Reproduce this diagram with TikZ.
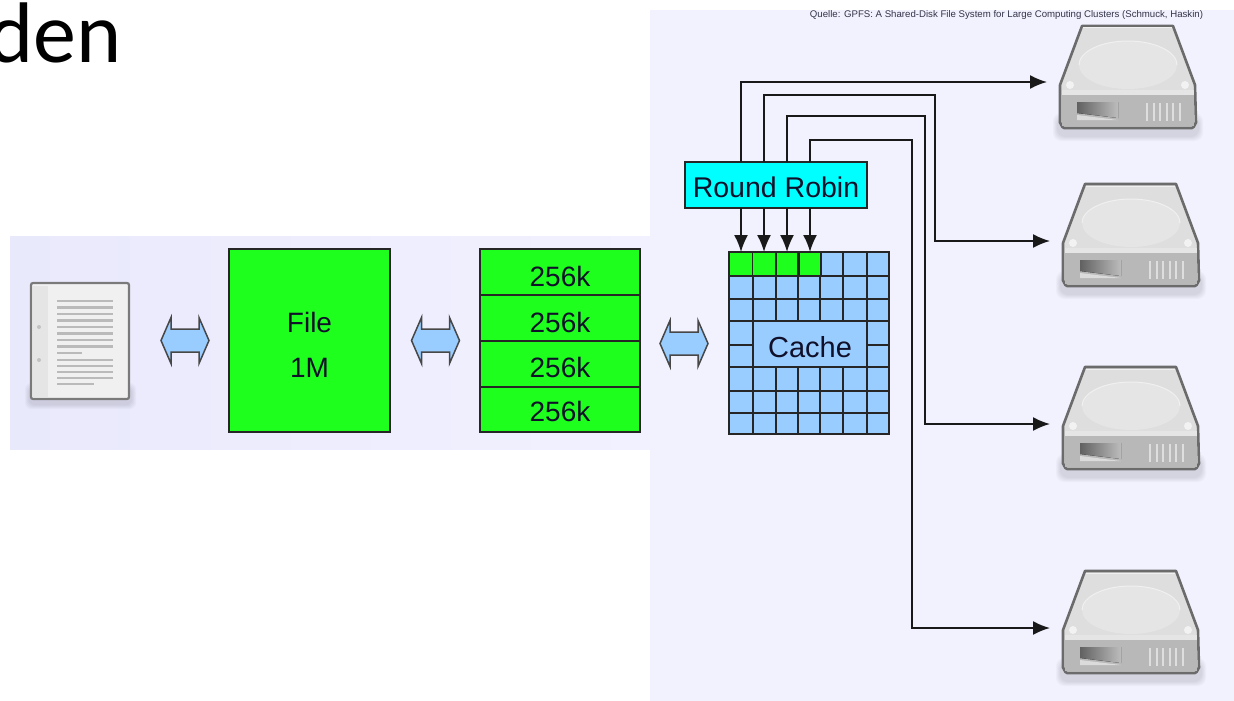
\documentclass[tikz,border=0pt]{standalone}
\usepackage{fontspec}
\setmainfont{Liberation Sans}
\newfontfamily\titlefont{Carlito}
\usetikzlibrary{arrows.meta,calc}
\definecolor{bandL}{HTML}{E9E9FC}
\definecolor{bandR}{HTML}{F1F1FF}
\definecolor{panel}{HTML}{F2F2FE}
\definecolor{blockgreen}{HTML}{1EFF1E}
\definecolor{cacheblue}{HTML}{99CCFF}
\definecolor{rrcyan}{HTML}{00FFFF}
\definecolor{ink}{HTML}{10102A}
\newcommand{\lowered}[2]{\raisebox{-#1pt}[\height][\depth]{#2}}
\tikzset{
  x=1pt,y=-1pt,
  block/.style={draw=black!85,line width=1.7pt,fill=blockgreen,inner sep=0pt,outer sep=0pt,text=ink},
  cachecell/.style={block,minimum width=23pt,minimum height=23pt},
  cachelabel/.style={fill=cacheblue,inner sep=0pt,text=ink,font=\fontsize{29}{30}\selectfont},
  blocklabel/.style={font=\fontsize{28}{45}\selectfont},
  grid line/.style={draw=black!85,line width=1.7pt},
  wire/.style={draw=black!90,line width=1.8pt,-{Latex[length=17pt,width=14pt]}},
  dblarrow/.pic={
    \draw[draw=black!72,line width=1.5pt,fill=cacheblue,line join=miter]
      (-24,0) -- (-14,-23) -- (-14,-11.5) -- (14,-11.5) -- (14,-23) -- (24,0) -- (14,23) -- (14,11.5) -- (-14,11.5) -- (-14,23) -- cycle;
  },
  disk/.pic={
    \foreach \sh in {0,1,2,3,4}{\fill[black,opacity=.022,rounded corners=8pt] ({-5+\sh},{88+\sh}) rectangle ({145-\sh},{116-\sh});}
    \draw[black!58,line width=2.6pt,line join=round,fill=black!13]
      (24,1) -- (115,1) -- (137,60) -- (138,98) to[out=90,in=0] (134,103) -- (6,103) to[out=180,in=90] (2,98) -- (2,60) -- cycle;
    \fill[black!28] (4,70) rectangle (136,101);
    \fill[black!10] (4,65) rectangle (136,70);
    \draw[black!6,line width=1pt] (25,3) -- (114,3);
    \fill[black!10] (70,40) ellipse [x radius=49,y radius=24];
    \draw[black!6,line width=1pt] (21,40) arc [start angle=180,end angle=360,x radius=49,y radius=24];
    \fill[black!5] (12,60) circle (4);
    \fill[black!5] (127,60) circle (4);
    \fill[left color=black!62,right color=black!26] (19,77) -- (60,77) -- (60,93) -- (19,88) -- cycle;
    \fill[black!14] (19,90) -- (60,95) -- (19,95) -- cycle;
    \foreach \vx in {89,95.5,102,108.5,115,121.5}{\draw[black!13,line width=2pt] (\vx,78) -- (\vx,96);}
  },
  docicon/.pic={
    \foreach \sh in {0,1,2,3,4}{\fill[black,opacity=.022,rounded corners=6pt] ({-5+\sh},{100+\sh}) rectangle ({106-\sh},{126-\sh});}
    \draw[black!52,line width=2.2pt,fill=black!6,rounded corners=2pt] (1,0) rectangle (99,116);
    \fill[black!10] (3,3) rectangle (18,114);
    \fill[black!24] (9,44) circle (2); \fill[black!24] (9,77) circle (2);
    \foreach \ly in {18,24.5,31,37.5,44,50.5,57,63.5}{\draw[black!27,line width=2.6pt] (27,\ly) -- (83,\ly);}
    \draw[black!27,line width=2.6pt] (27,70) -- (52,70);
    \foreach \ly in {82,88,94,100}{\draw[black!27,line width=2.6pt] (27,\ly-5) -- (83,\ly-5);}
    \draw[black!27,line width=2.6pt] (27,101) -- (64,101);
  }
}
\begin{document}
\begin{tikzpicture}
\useasboundingbox (0,0) rectangle (1234,701);
\fill[white] (0,0) rectangle (1234,701);
% backgrounds
\shade[left color=bandL,right color=bandR,draw=none] (10,236) rectangle (650,449);
\fill[panel] (650,10) rectangle (1234,701);
% title fragment
\node[anchor=base west,inner sep=0pt,font=\titlefont\fontsize{86}{88}\selectfont,text=black] (title) at (-12,63) {den};
% caption
\node[anchor=center,inner sep=0pt,font=\fontsize{9.64}{10}\selectfont,text=ink!85] (caption) at (1006.5,15) {Quelle: GPFS: A Shared-Disk File System for Large Computing Clusters (Schmuck, Haskin)};
% document icon
\pic at (30,283) {docicon};
% file
\node[block,minimum width=161pt,minimum height=183pt,blocklabel,align=center] (file) at (309.5,340.5) {\lowered{4}{File}\\\lowered{4}{1M}};
% 256k blocks
\node[block,minimum width=160pt,minimum height=46pt,blocklabel] (b1) at (560,272) {\lowered{4}{256k}};
\node[block,minimum width=160pt,minimum height=46pt,blocklabel] (b2) at (560,318) {\lowered{4}{256k}};
\node[block,minimum width=160pt,minimum height=46pt,blocklabel] (b3) at (560,364) {\lowered{3}{256k}};
\node[block,minimum width=160pt,minimum height=45pt,blocklabel] (b4) at (560,409.5) {\lowered{2}{256k}};
% block arrows
\pic at (185,340.5) {dblarrow};
\pic at (435.5,340.5) {dblarrow};
\pic at (684,343.5) {dblarrow};
% cache grid
\fill[cacheblue] (729,252) rectangle (889,434);
\foreach \gx in {753,776,798,820,843,867}{\draw[grid line] (\gx,252) -- (\gx,434);}
\foreach \gy in {276,299,321,345,367,391,413}{\draw[grid line] (729,\gy) -- (889,\gy);}
\node[cachelabel,minimum width=112.5pt,minimum height=44.5pt] (cache) at (810,344) {\lowered{3}{Cache}};
\draw[grid line] (753,321) rectangle (867,367);
\node[cachecell,minimum width=24pt,minimum height=24pt] (g1) at (741,264) {};
\node[cachecell,minimum width=23pt,minimum height=24pt] (g2) at (764,264) {};
\node[cachecell,minimum width=22pt,minimum height=24pt] (g3) at (787,264) {};
\node[cachecell,minimum width=22pt,minimum height=24pt] (g4) at (810,264) {};
\draw[grid line] (729,252) rectangle (889,434);
% round robin
\node[block,fill=rrcyan,minimum width=182pt,minimum height=46pt,font=\fontsize{28.5}{30}\selectfont] (rr) at (776,185) {\lowered{2}{Round Robin}};
% disks
\pic at (1058,25) {disk};
\pic at (1061,183) {disk};
\pic at (1061,366) {disk};
\pic at (1061,570) {disk};
\coordinate (d1) at (1047,82);
\coordinate (d2) at (1050,241);
\coordinate (d3) at (1050,424);
\coordinate (d4) at (1050,628);
\coordinate (t2) at (935,95);
\coordinate (t3) at (925,116);
\coordinate (t4) at (912,140);
% wires
\foreach \n in {1,2,3,4}{\draw[wire] (rr.south -| g\n.north) -- (g\n.north);}
\draw[wire] (rr.north -| g1.north) |- (d1);
\draw[wire] (rr.north -| g2.north) |- (t2) |- (d2);
\draw[wire] (rr.north -| g3.north) |- (t3) |- (d3);
\draw[wire] (rr.north -| g4.north) |- (t4) |- (d4);
\end{tikzpicture}
\end{document}
